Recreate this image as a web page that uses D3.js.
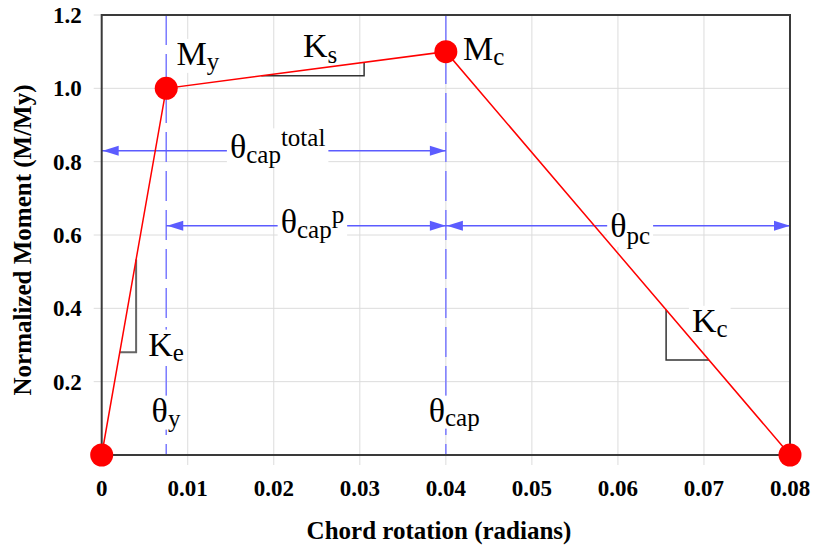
<!DOCTYPE html>
<html>
<head>
<meta charset="utf-8">
<script src="https://cdn.jsdelivr.net/npm/d3@7"></script>
<style>
  body { margin: 0; background: #fff; }
</style>
</head>
<body>
<div id="chart"></div>
<script>
// backbone curve: chord rotation vs normalized moment
const rotation = [0, 0.0075, 0.04, 0.08];
const moment = [0, 1.0, 1.1, 0];

const xTickValues = [0, 0.01, 0.02, 0.03, 0.04, 0.05, 0.06, 0.07, 0.08];
const xTickLabels = ["0", "0.01", "0.02", "0.03", "0.04", "0.05", "0.06", "0.07", "0.08"];
const yTickValues = [0.2, 0.4, 0.6, 0.8, 1.0, 1.2];
const yTickLabels = ["0.2", "0.4", "0.6", "0.8", "1.0", "1.2"];

// dimension arrows (rotation from / to, at a moment level)
const arrowFrom = [0, 0.0075, 0.04];
const arrowTo = [0.04, 0.04, 0.08];
const arrowLevel = [0.83, 0.625, 0.625];

// labels: [text, baseline offset] pieces, placed in data units
const labelParts = [
  [["M", 0], ["y", 5]],
  [["K", 0], ["s", 6]],
  [["M", 0], ["c", 5]],
  [["K", 0], ["e", 5]],
  [["K", 0], ["c", 5]],
  [["θ", 0], ["y", 5]],
  [["θ", 0], ["cap", 4]],
  [["θ", 0], ["pc", 7]],
  [["θ", 0], ["cap", 5], ["total", -12]],
  [["θ", 0], ["cap", 5], ["p", -10]]
];
const labelX = [0.0087, 0.0234, 0.042, 0.0054, 0.0686, 0.0058, 0.038, 0.0591, 0.0149, 0.0208];
const labelY = [1.064, 1.085, 1.077, 0.271, 0.336, 0.091, 0.091, 0.595, 0.809, 0.605];

// slope triangles: right-angle corner + which segment of the curve
const triCornerX = [0.0040, 0.0305, 0.0656];
const triCornerY = [0.28, 1.034, 0.259];
const triSegment = [0, 1, 2];

const width = 817, height = 552;
const serif = '"Liberation Serif"';
const x = d3.scaleLinear().domain([0, 0.08]).range([101.7, 790]);
const y = d3.scaleLinear().domain([0, 1.2]).range([455, 15]);

const svg = d3.select("#chart").append("svg")
  .attr("width", width)
  .attr("height", height);

// grid lines (they poke out past the frame like tick marks)
svg.append("g").selectAll("line").data(yTickValues).join("line")
  .attr("x1", x(0) - 8).attr("x2", x(0.08))
  .attr("y1", d => y(d)).attr("y2", d => y(d))
  .attr("stroke", "#dcdcdc").attr("stroke-width", 1);
svg.append("g").selectAll("line").data(xTickValues.slice(1)).join("line")
  .attr("x1", d => x(d)).attr("x2", d => x(d))
  .attr("y1", y(1.2)).attr("y2", y(0) + 10)
  .attr("stroke", "#dcdcdc").attr("stroke-width", 1);

// tick labels
svg.append("g").selectAll("text").data(yTickValues).join("text")
  .attr("x", x(0) - 20).attr("y", d => y(d) + 8)
  .attr("text-anchor", "end")
  .style("font-family", serif)
  .style("font-size", "23px").style("font-weight", "bold")
  .text((d, i) => yTickLabels[i]);
svg.append("g").selectAll("text").data(xTickValues).join("text")
  .attr("x", d => x(d)).attr("y", y(0) + 41)
  .attr("text-anchor", "middle")
  .style("font-family", serif)
  .style("font-size", "23px").style("font-weight", "bold")
  .text((d, i) => xTickLabels[i]);

// axis titles
svg.append("text")
  .attr("x", 439).attr("y", 539)
  .attr("text-anchor", "middle")
  .style("font-family", serif)
  .style("font-size", "25px").style("font-weight", "bold")
  .text("Chord rotation (radians)");
svg.append("text")
  .attr("transform", "translate(31,240) rotate(-90)")
  .attr("text-anchor", "middle")
  .style("font-family", serif)
  .style("font-size", "25px").style("font-weight", "bold")
  .text("Normalized Moment (M/My)");

// dashed guides at yield and capping rotations
svg.append("g").selectAll("line").data([rotation[1], rotation[2]]).join("line")
  .attr("x1", d => x(d)).attr("x2", d => x(d))
  .attr("y1", y(1.2)).attr("y2", y(0))
  .attr("stroke", "#7b7bff").attr("stroke-width", 1.5)
  .attr("stroke-dasharray", "30,9");

// dimension arrows
const arrowColor = "#5c5cff";
const arrows = svg.append("g");
arrowFrom.forEach((a, i) => {
  const x1 = x(a), x2 = x(arrowTo[i]), yy = y(arrowLevel[i]);
  arrows.append("line")
    .attr("x1", x1).attr("x2", x2).attr("y1", yy).attr("y2", yy)
    .attr("stroke", arrowColor).attr("stroke-width", 1.5);
  const len = 16, hw = 5;
  arrows.append("polygon")
    .attr("points", `${x1 + 1},${yy} ${x1 + 1 + len},${yy - hw} ${x1 + 1 + len},${yy + hw}`)
    .attr("fill", arrowColor);
  arrows.append("polygon")
    .attr("points", `${x2},${yy} ${x2 - len},${yy - hw} ${x2 - len},${yy + hw}`)
    .attr("fill", arrowColor);
});

// labels with white boxes behind them
const boxLayer = svg.append("g");
const textLayer = svg.append("g");
labelParts.forEach((parts, i) => {
  const t = textLayer.append("text")
    .attr("x", x(labelX[i])).attr("y", y(labelY[i]))
    .style("font-family", serif);
  let prev = 0;
  parts.forEach(([str, shift], j) => {
    t.append("tspan")
      .attr("dy", shift - prev)
      .style("font-family", serif)
      .style("font-size", j === 0 ? "34px" : "25px")
      .text(str);
    prev = shift;
  });
  const b = t.node().getBBox();
  boxLayer.append("rect")
    .attr("x", b.x - 3).attr("y", b.y + 4)
    .attr("width", b.width + 6).attr("height", b.height - 6)
    .attr("fill", "#fff");
});

// slope triangles
const tri = svg.append("g");
triCornerX.forEach((cx, i) => {
  const s = triSegment[i];
  const x0 = rotation[s], x1 = rotation[s + 1], m0 = moment[s], m1 = moment[s + 1];
  const onLineY = xv => m0 + (m1 - m0) * (xv - x0) / (x1 - x0);
  const onLineX = mv => x0 + (x1 - x0) * (mv - m0) / (m1 - m0);
  const cy = triCornerY[i];
  tri.append("polyline")
    .attr("points", [[onLineX(cy), cy], [cx, cy], [cx, onLineY(cx)]]
      .map(p => [x(p[0]), y(p[1])].join(",")).join(" "))
    .attr("fill", "none")
    .attr("stroke", i === 0 ? "#666" : "#333")
    .attr("stroke-width", i === 0 ? 2 : 1.5);
});

// frame
svg.append("rect")
  .attr("x", x(0)).attr("y", y(1.2))
  .attr("width", x(0.08) - x(0)).attr("height", y(0) - y(1.2))
  .attr("fill", "none").attr("stroke", "#3a3a3a").attr("stroke-width", 2);

// backbone curve
const pts = rotation.map((r, i) => [r, moment[i]]);
svg.append("path")
  .datum(pts)
  .attr("d", d3.line().x(d => x(d[0])).y(d => y(d[1])))
  .attr("fill", "none").attr("stroke", "#ff0000").attr("stroke-width", 1.5);
svg.append("g").selectAll("circle").data(pts).join("circle")
  .attr("cx", d => x(d[0])).attr("cy", d => y(d[1]))
  .attr("r", 11.5).attr("fill", "#ff0000");
</script>
</body>
</html>
